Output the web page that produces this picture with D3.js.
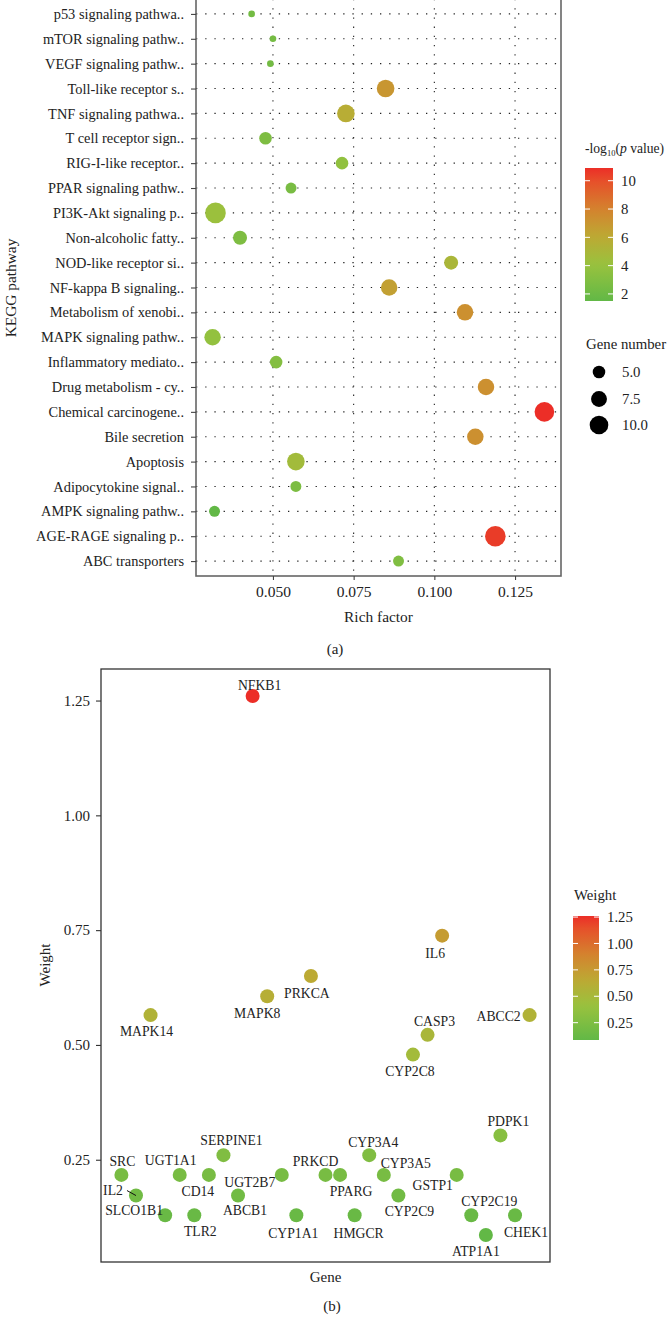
<!DOCTYPE html>
<html>
<head>
<meta charset="utf-8">
<script src="https://cdn.jsdelivr.net/npm/d3@7"></script>
<style>
  body { margin: 0; background: #fff; }
  svg text { font-family: "Liberation Serif", "DejaVu Serif", serif; fill: #222; }
</style>
</head>
<body>
<svg id="chart"></svg>
<script>
// ---- data (a): KEGG enrichment ----
var pathways = ['p53 signaling pathwa..', 'mTOR signaling pathw..', 'VEGF signaling pathw..',
  'Toll-like receptor s..', 'TNF signaling pathwa..', 'T cell receptor sign..', 'RIG-I-like receptor..',
  'PPAR signaling pathw..', 'PI3K-Akt signaling p..', 'Non-alcoholic fatty..', 'NOD-like receptor si..',
  'NF-kappa B signaling..', 'Metabolism of xenobi..', 'MAPK signaling pathw..', 'Inflammatory mediato..',
  'Drug metabolism - cy..', 'Chemical carcinogene..', 'Bile secretion', 'Apoptosis',
  'Adipocytokine signal..', 'AMPK signaling pathw..', 'AGE-RAGE signaling p..', 'ABC transporters']
var richFactor = [0.0434, 0.0500, 0.0492, 0.0849, 0.0726, 0.0477, 0.0714, 0.0556, 0.0322, 0.0398, 0.1052,
  0.0860, 0.1095, 0.0313, 0.0510, 0.1160, 0.1341, 0.1127, 0.0571, 0.0571, 0.0319, 0.1189, 0.0889]
var geneNumber = [2, 2, 2, 9, 9, 5, 5, 4, 12, 6, 6, 8, 8, 8, 5, 8, 11, 8, 9, 4, 4, 12, 4]
var logP = [2.3, 2.4, 2.3, 7.0, 5.8, 2.8, 3.7, 2.6, 4.2, 2.8, 5.0, 6.5, 7.3, 3.8, 3.1, 7.3, 10.9, 7.3, 4.6,
  2.7, 1.5, 10.5, 2.9]
var richTicks = [0.050, 0.075, 0.100, 0.125]
var logPTicks = [2, 4, 6, 8, 10]
var sizeTicks = [5.0, 7.5, 10.0]

// ---- data (b): gene weights ----
var genes = ['SRC', 'IL2', 'MAPK14', 'SLCO1B1', 'UGT1A1', 'TLR2', 'CD14', 'SERPINE1', 'ABCB1', 'NFKB1',
  'MAPK8', 'UGT2B7', 'CYP1A1', 'PRKCA', 'PRKCD', 'PPARG', 'HMGCR', 'CYP3A4', 'CYP3A5', 'CYP2C9',
  'CYP2C8', 'CASP3', 'IL6', 'GSTP1', 'CYP2C19', 'ATP1A1', 'PDPK1', 'CHEK1', 'ABCC2']
var weights = [0.217, 0.172, 0.565, 0.129, 0.217, 0.129, 0.217, 0.260, 0.172, 1.260,
  0.606, 0.217, 0.129, 0.650, 0.217, 0.217, 0.129, 0.260, 0.217, 0.172,
  0.479, 0.522, 0.738, 0.217, 0.129, 0.086, 0.303, 0.129, 0.565]
var weightTicks = [0.25, 0.50, 0.75, 1.00, 1.25]

// label placement (repelled text), px offsets from the point
var nudge = {
  SRC: [1, -14], IL2: [-23, -5], MAPK14: [-4, 16.5], SLCO1B1: [-31, -5], UGT1A1: [-9, -15],
  TLR2: [6, 16], CD14: [-11, 16], SERPINE1: [8, -15], ABCB1: [7, 15], NFKB1: [7, -11],
  MAPK8: [-10, 17], UGT2B7: [-32, 7], CYP1A1: [-3, 17.5], PRKCA: [-4, 17], PRKCD: [-10, -14],
  PPARG: [11, 16], HMGCR: [4, 18], CYP3A4: [4, -13], CYP3A5: [22, -12], CYP2C9: [11, 16],
  CYP2C8: [-3, 17], CASP3: [7, -14], IL6: [-7, 17.5], GSTP1: [-24, 10], CYP2C19: [18, -14],
  ATP1A1: [-10, 16], PDPK1: [8, -14], CHEK1: [11, 17], ABCC2: [-31, 1]
}

var W = 670, H = 1317
var svg = d3.select('#chart').attr('width', W).attr('height', H)

// green -> yellow-green -> olive -> orange -> red
var grad = d3.scaleLinear()
  .domain([0, 0.27, 0.48, 0.69, 0.9, 1])
  .range(['#62b846', '#98c23e', '#bcaa34', '#d4822e', '#e6502a', '#ec2e27'])
  .interpolate(d3.interpolateRgb)

function padExtent(arr, f) {
  var e = d3.extent(arr), p = (e[1] - e[0]) * f
  return [e[0] - p, e[1] + p]
}

function colorBar(g, id, x, y0, y1, wd, domain, ticks, fmt) {
  var defs = svg.append('defs')
  var lg = defs.append('linearGradient').attr('id', id)
    .attr('x1', 0).attr('y1', 1).attr('x2', 0).attr('y2', 0)
  d3.range(0, 1.0001, 0.05).forEach(function (t) {
    lg.append('stop').attr('offset', t).attr('stop-color', grad(t))
  })
  g.append('rect').attr('x', x).attr('y', y1).attr('width', wd).attr('height', y0 - y1)
    .attr('fill', 'url(#' + id + ')')
  var s = d3.scaleLinear().domain(domain).range([y0, y1])
  ticks.forEach(function (t) {
    g.append('line').attr('x1', x).attr('x2', x + 5).attr('y1', s(t)).attr('y2', s(t))
      .attr('stroke', '#fff').attr('stroke-width', 1)
    g.append('line').attr('x1', x + wd - 5).attr('x2', x + wd).attr('y1', s(t)).attr('y2', s(t))
      .attr('stroke', '#fff').attr('stroke-width', 1)
    g.append('text').attr('x', x + wd + 8).attr('y', s(t)).attr('dy', '0.35em')
      .attr('font-size', '14.8px').text(fmt(t))
  })
}

// ================= (a) =================
var a = { left: 196, right: 561, top: -1, bottom: 576 }
var ga = svg.append('g')

var x1 = d3.scaleLinear().domain(padExtent(richFactor, 0.05)).range([a.left, a.right])
var y1 = d3.scalePoint().domain(pathways).range([a.top, a.bottom]).padding(0.6)
var area = d3.scaleLinear().domain(d3.extent(geneNumber)).range([11, 106])
function rad(n) { return Math.sqrt(area(n)) }
var pExt = d3.extent(logP)
function pColor(v) { return grad((v - pExt[0]) / (pExt[1] - pExt[0])) }

// dotted grid
ga.selectAll('.hg').data(pathways).enter().append('line')
  .attr('x1', a.left).attr('x2', a.right)
  .attr('y1', function (d) { return y1(d) }).attr('y2', function (d) { return y1(d) })
  .attr('stroke', '#222').attr('stroke-width', 1.1).attr('stroke-dasharray', '1.3,7.9')
ga.selectAll('.vg').data(richTicks).enter().append('line')
  .attr('y1', a.top).attr('y2', a.bottom)
  .attr('x1', function (d) { return x1(d) }).attr('x2', function (d) { return x1(d) })
  .attr('stroke', '#222').attr('stroke-width', 1.1).attr('stroke-dasharray', '1.3,7.9')

var ptsA = pathways.map(function (p, i) {
  return { p: p, x: richFactor[i], n: geneNumber[i], v: logP[i] }
})
ga.selectAll('circle.pa').data(ptsA).enter().append('circle')
  .attr('cx', function (d) { return x1(d.x) })
  .attr('cy', function (d) { return y1(d.p) })
  .attr('r', function (d) { return rad(d.n) })
  .attr('fill', function (d) { return pColor(d.v) })

ga.append('rect').attr('x', a.left).attr('y', a.top)
  .attr('width', a.right - a.left).attr('height', a.bottom - a.top)
  .attr('fill', 'none').attr('stroke', '#666').attr('stroke-width', 1.6)

var axYa = ga.append('g').attr('transform', 'translate(' + a.left + ',0)')
  .call(d3.axisLeft(y1).tickSize(5).tickPadding(7))
var axXa = ga.append('g').attr('transform', 'translate(0,' + a.bottom + ')')
  .call(d3.axisBottom(x1).tickValues(richTicks).tickFormat(d3.format('.3f')).tickSize(4).tickPadding(6))
;[axYa, axXa].forEach(function (ax) {
  ax.select('.domain').remove()
  ax.selectAll('line').attr('stroke', '#444').attr('stroke-width', 1.1)
  ax.selectAll('text').attr('font-size', '14.4px').attr('font-family', null).attr('fill', '#222')
})
axXa.selectAll('text').attr('font-size', '15.5px')

ga.append('text').attr('x', (a.left + a.right) / 2).attr('y', 622)
  .attr('text-anchor', 'middle').attr('font-size', '15.4px').text('Rich factor')
ga.append('text').attr('transform', 'translate(16,288) rotate(-90)')
  .attr('text-anchor', 'middle').attr('font-size', '15.4px').text('KEGG pathway')
ga.append('text').attr('x', 335).attr('y', 654)
  .attr('text-anchor', 'middle').attr('font-size', '15px').text('(a)')

// legend (a)
var leg = ga.append('g')
var tt = leg.append('text').attr('x', 585).attr('y', 153).attr('font-size', '13.6px')
tt.append('tspan').text('-log')
tt.append('tspan').attr('font-size', '8.5px').attr('dy', 3).text('10')
tt.append('tspan').attr('dy', -3).text('(')
tt.append('tspan').attr('font-style', 'italic').text('p')
tt.append('tspan').text(' value)')
colorBar(leg, 'gA', 585, 301, 168, 28, pExt, logPTicks, d3.format('d'))

leg.append('text').attr('x', 586).attr('y', 349).attr('font-size', '14.8px').text('Gene number')
var sy = [372, 399, 425]
sizeTicks.forEach(function (s, i) {
  leg.append('circle').attr('cx', 599).attr('cy', sy[i]).attr('r', rad(s)).attr('fill', '#000')
  leg.append('text').attr('x', 622).attr('y', sy[i]).attr('dy', '0.35em')
    .attr('font-size', '14.8px').text(d3.format('.1f')(s))
})

// ================= (b) =================
var b = { left: 101, right: 550, top: 669, bottom: 1262 }
var gb = svg.append('g')
var x2 = d3.scalePoint().domain(genes).range([b.left, b.right]).padding(1.4)
var y2 = d3.scaleLinear().domain(padExtent(weights, 0.05)).range([b.bottom, b.top])
var wExt = d3.extent(weights)
function wColor(v) { return grad((v - wExt[0]) / (wExt[1] - wExt[0])) }

var ptsB = genes.map(function (g, i) { return { g: g, w: weights[i] } })

gb.selectAll('circle.pb').data(ptsB).enter().append('circle')
  .attr('cx', function (d) { return x2(d.g) })
  .attr('cy', function (d) { return y2(d.w) })
  .attr('r', 7)
  .attr('fill', function (d) { return wColor(d.w) })

// IL2 connector
var il2 = ptsB[1]
gb.append('line')
  .attr('x1', x2(il2.g) + nudge.IL2[0] + 14).attr('y1', y2(il2.w) + nudge.IL2[1])
  .attr('x2', x2(il2.g)).attr('y2', y2(il2.w))
  .attr('stroke', '#111').attr('stroke-width', 1)

gb.selectAll('text.lb').data(ptsB).enter().append('text')
  .attr('x', function (d) { return x2(d.g) + nudge[d.g][0] })
  .attr('y', function (d) { return y2(d.w) + nudge[d.g][1] })
  .attr('dy', '0.35em').attr('text-anchor', 'middle').attr('font-size', '13.7px')
  .text(function (d) { return d.g })

gb.append('rect').attr('x', b.left).attr('y', b.top)
  .attr('width', b.right - b.left).attr('height', b.bottom - b.top)
  .attr('fill', 'none').attr('stroke', '#333').attr('stroke-width', 1.3)

var axYb = gb.append('g').attr('transform', 'translate(' + b.left + ',0)')
  .call(d3.axisLeft(y2).tickValues(weightTicks).tickFormat(d3.format('.2f')).tickSize(5).tickPadding(6))
axYb.select('.domain').remove()
axYb.selectAll('line').attr('stroke', '#333').attr('stroke-width', 1.1)
axYb.selectAll('text').attr('font-size', '15px').attr('font-family', null).attr('fill', '#222')

gb.append('text').attr('x', (b.left + b.right) / 2).attr('y', 1282)
  .attr('text-anchor', 'middle').attr('font-size', '15px').text('Gene')
gb.append('text').attr('transform', 'translate(50,965) rotate(-90)')
  .attr('text-anchor', 'middle').attr('font-size', '15px').text('Weight')
gb.append('text').attr('x', 332).attr('y', 1311)
  .attr('text-anchor', 'middle').attr('font-size', '15px').text('(b)')

var legB = gb.append('g')
legB.append('text').attr('x', 574).attr('y', 900).attr('font-size', '14.8px').text('Weight')
colorBar(legB, 'gB', 573, 1040, 916, 26, wExt, weightTicks, d3.format('.2f'))
</script>
</body>
</html>
